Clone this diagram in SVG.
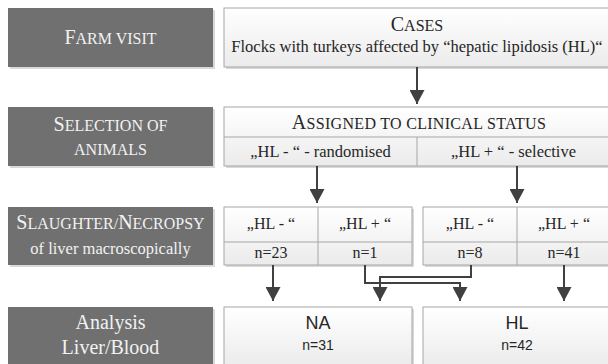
<svg xmlns="http://www.w3.org/2000/svg" width="608" height="364" viewBox="0 0 608 364">
<defs>
<linearGradient id="wg" x1="0" y1="0" x2="0" y2="1">
<stop offset="0" stop-color="#ffffff"/>
<stop offset="1" stop-color="#ebebeb"/>
</linearGradient>
<marker id="ah" markerUnits="userSpaceOnUse" markerWidth="15" markerHeight="15" refX="14" refY="7.5" orient="auto">
<path d="M0,0 L14,7.5 L0,15 z" fill="#404040"/>
</marker>
</defs>
<style>
.gbox{fill:#707070;}
.shadow{fill:#d9d9d9;}
.wbox{fill:url(#wg);stroke:#a6a6a6;stroke-width:1;}
.div{stroke:#a6a6a6;stroke-width:1;fill:none;}
.gt{font-family:"Liberation Serif","Times New Roman",serif;font-size:20px;fill:#f2f2f2;text-anchor:middle;}
.wt{font-family:"Liberation Serif","Times New Roman",serif;font-size:16px;fill:#262626;text-anchor:middle;}
.wtl{font-family:"Liberation Serif","Times New Roman",serif;font-size:20px;fill:#262626;text-anchor:middle;}
.s{font-size:16px;}
.st{font-family:"Liberation Sans",Arial,sans-serif;fill:#262626;text-anchor:middle;}
.conn{stroke:#404040;stroke-width:2;fill:none;marker-end:url(#ah);}
</style>

<g id="label-farm-visit">
<rect class="shadow" x="10" y="10" width="205" height="59"/>
<rect class="gbox" x="8" y="8" width="205" height="59"/>
<text class="gt" x="110.5" y="44">F<tspan class="s">ARM VISIT</tspan></text>
</g>
<g id="label-selection">
<rect class="shadow" x="10" y="109" width="205" height="59"/>
<rect class="gbox" x="8" y="107" width="205" height="59"/>
<text class="gt" x="110.5" y="131">S<tspan class="s">ELECTION OF</tspan></text>
<text class="gt s" x="110.5" y="155">ANIMALS</text>
</g>
<g id="label-slaughter">
<rect class="shadow" x="10" y="209" width="205" height="58"/>
<rect class="gbox" x="8" y="207" width="205" height="58"/>
<text class="gt" x="110.5" y="229">S<tspan class="s">LAUGHTER/</tspan>N<tspan class="s">ECROPSY</tspan></text>
<text class="gt" x="110.5" y="254" style="font-size:16.5px">of liver macroscopically</text>
</g>
<g id="label-analysis">
<rect class="shadow" x="10" y="309" width="205" height="60"/>
<rect class="gbox" x="8" y="307" width="205" height="60"/>
<text class="gt" x="110.5" y="329">Analysis</text>
<text class="gt" x="110.5" y="354">Liver/Blood</text>
</g>

<g id="cases">
<rect class="shadow" x="226" y="10" width="386" height="59"/>
<rect class="wbox" x="224" y="8" width="386" height="59"/>
<text class="wtl" x="417" y="31">C<tspan class="s">ASES</tspan></text>
<text class="wt" x="417" y="52" style="font-size:16.5px">Flocks with turkeys affected by “hepatic lipidosis (HL)“</text>
</g>

<g id="assigned">
<rect class="shadow" x="226" y="109" width="386" height="59"/>
<rect class="wbox" x="224" y="107" width="386" height="59"/>
<path class="div" d="M224 137 H610 M417 137 V166"/>
<text class="wtl" x="419" y="129" style="letter-spacing:0.3px">A<tspan class="s">SSIGNED TO CLINICAL STATUS</tspan></text>
<text class="wt" x="320.5" y="157" style="font-size:16.5px">„HL - “ - randomised</text>
<text class="wt" x="513.5" y="157" style="font-size:16.5px">„HL + “ - selective</text>
</g>

<g id="randomised-group">
<rect class="shadow" x="226" y="209" width="188" height="58"/>
<rect class="wbox" x="224" y="207" width="188" height="58"/>
<path class="div" d="M224 242 H412 M318 207 V265"/>
<text class="wt" x="271" y="229">„HL - “</text>
<text class="wt" x="365" y="229">„HL + “</text>
<text class="wt" x="271" y="258">n=23</text>
<text class="wt" x="365" y="258">n=1</text>
</g>

<g id="selective-group">
<rect class="shadow" x="425" y="209" width="188" height="58"/>
<rect class="wbox" x="423" y="207" width="188" height="58"/>
<path class="div" d="M423 242 H611 M517 207 V265"/>
<text class="wt" x="470" y="229">„HL - “</text>
<text class="wt" x="564" y="229">„HL + “</text>
<text class="wt" x="470" y="258">n=8</text>
<text class="wt" x="564" y="258">n=41</text>
</g>

<g id="na">
<rect class="shadow" x="226" y="309" width="188" height="60"/>
<rect class="wbox" x="224" y="307" width="188" height="60"/>
<text class="st" x="318" y="329" style="font-size:18px">NA</text>
<text class="st" x="318" y="350" style="font-size:14px">n=31</text>
</g>

<g id="hl">
<rect class="shadow" x="425" y="309" width="188" height="60"/>
<rect class="wbox" x="423" y="307" width="188" height="60"/>
<text class="st" x="517" y="329" style="font-size:18px">HL</text>
<text class="st" x="517" y="350" style="font-size:14px">n=42</text>
</g>

<g id="connectors">
<path class="conn" d="M417 67 V104"/>
<path class="conn" d="M317 166 V203"/>
<path class="conn" d="M517 166 V203"/>
<path class="conn" d="M273 265 V301"/>
<path class="conn" d="M564 265 V301"/>
<path class="conn" d="M365 265 V283 H460 V301"/>
<path class="conn" d="M471 265 V277 H380 V301"/>
</g>
</svg>
